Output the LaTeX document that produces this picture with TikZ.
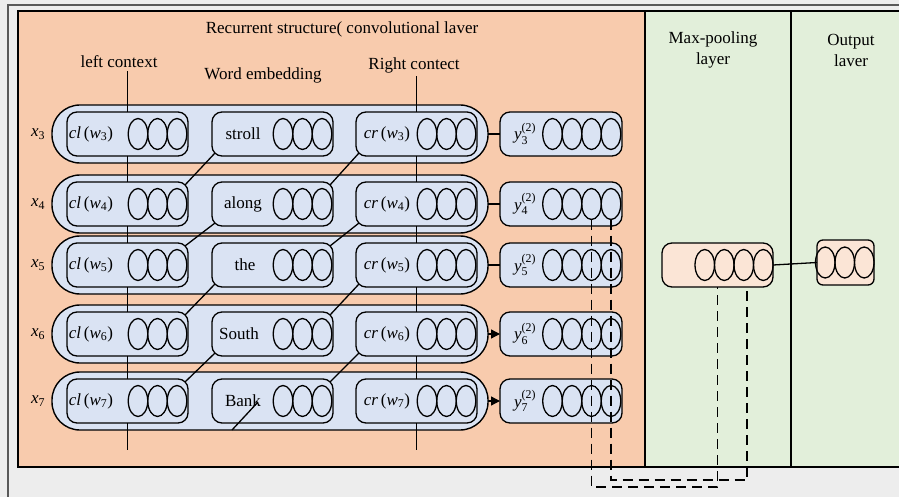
\documentclass[tikz,border=0pt]{standalone}
\usepackage{amsmath}
\usepackage{fontspec}
\setmainfont{Liberation Serif}
\usetikzlibrary{arrows.meta, positioning, shapes.geometric}
\definecolor{cnngray}{HTML}{EDEDED}
\definecolor{cnnframe}{HTML}{595959}
\definecolor{cnnorange}{HTML}{F8CBAD}
\definecolor{cnngreen}{HTML}{E2EFDA}
\definecolor{cnnblue}{HTML}{DAE3F3}
\definecolor{cnnpeach}{HTML}{FBE5D6}
\newcommand{\clw}[1]{\textit{cl}\,(\textit{w}$_{\textup{#1}}$)}
\newcommand{\crw}[1]{\textit{cr}\,(\textit{w}$_{\textup{#1}}$)}
\newcommand{\ylab}[1]{$\textit{y}^{\textup{(2)}}_{\textup{#1}}$}
\newcommand{\xlab}[1]{$\textit{x}_{\textup{#1}}$}

\begin{document}
\begin{tikzpicture}[
        x=1pt, y=-1pt,
        font=\fontsize{17}{21}\selectfont,
        every node/.style={align=center, outer sep=0pt},
        panel/.style={rectangle, draw=black, line width=1.2pt, inner sep=0pt},
        rowbox/.style={rectangle, rounded corners=28pt, draw=black, line width=1.4pt,
                       fill=cnnblue, minimum width=436pt, minimum height=58pt, inner sep=0pt},
        cellbox/.style={rectangle, rounded corners=10pt, draw=black, line width=1.3pt,
                        fill=cnnblue, minimum width=121pt, minimum height=44pt, inner sep=0pt},
        ybox/.style={cellbox, minimum width=122pt},
        poolbox/.style={cellbox, fill=cnnpeach, minimum width=111pt},
        outbox/.style={cellbox, fill=cnnpeach, rounded corners=6pt,
                       minimum width=57pt, minimum height=45pt},
        unit/.style={ellipse, draw=black, line width=1.3pt,
                     minimum width=19.5pt, minimum height=31pt, inner sep=0pt},
        link/.style={draw=black, line width=1.3pt},
        dashline/.style={link, line width=1.5pt, dash pattern=on 10pt off 6pt}
    ]
        \useasboundingbox (0,0) rectangle (899,497);
        \fill[cnngray] (0,0) rectangle (899,497);
        \draw[cnnframe, line width=1.5pt] (8,5) rectangle (906,504);

        % --- Paneles de capas ---
        \node[panel, fill=cnnorange, minimum width=627pt, minimum height=456pt] (recur) at (331.5,239) {};
        \node[panel, fill=cnngreen, minimum width=146pt, minimum height=456pt] (pooling) at (718,239) {};
        \node[panel, fill=cnngreen, minimum width=119pt, minimum height=456pt] (output) at (850.5,239) {};

        \node (title) at (342,29) {Recurrent structure( convolutional laver};
        \node (lctx) at (119,62) {left context};
        \node (wemb) at (263,75) {Word embedding};
        \node (rctx) at (414,65) {Right contect};
        \node (pooltitle) at (713,50) {Max-pooling\\layer};
        \node (outtitle) at (851,50) {Output\\laver};

        % --- Fila x3 ---
        \node (lx3) at (38,134) {\xlab{3}};
        \node[rowbox] (row3) at (270,134) {};
        \node[cellbox] (cl3) at (127.5,134) {};
        \node[cellbox] (w3) at (272.5,134) {};
        \node[cellbox] (cr3) at (416.5,134) {};
        \node[ybox] (y3) at (561,134) {};
        \node (tcl3) at ([xshift=24]cl3.west) {\clw{3}};
        \node (tw3) at ([xshift=31]w3.west) {stroll};
        \node (tcr3) at ([xshift=31]cr3.west) {\crw{3}};
        \node (ty3) at ([xshift=25]y3.west) {\ylab{3}};

        % --- Fila x4 ---
        \node (lx4) at (38,204) {\xlab{4}};
        \node[rowbox] (row4) at (270,204) {};
        \node[cellbox] (cl4) at (127.5,204) {};
        \node[cellbox] (w4) at (272.5,204) {};
        \node[cellbox] (cr4) at (416.5,204) {};
        \node[ybox] (y4) at (561,204) {};
        \node (tcl4) at ([xshift=24]cl4.west) {\clw{4}};
        \node (tw4) at ([xshift=31]w4.west) {along};
        \node (tcr4) at ([xshift=31]cr4.west) {\crw{4}};
        \node (ty4) at ([xshift=25]y4.west) {\ylab{4}};

        % --- Fila x5 ---
        \node (lx5) at (38,265) {\xlab{5}};
        \node[rowbox] (row5) at (270,265) {};
        \node[cellbox] (cl5) at (127.5,265) {};
        \node[cellbox] (w5) at (272.5,265) {};
        \node[cellbox] (cr5) at (416.5,265) {};
        \node[ybox] (y5) at (561,265) {};
        \node (tcl5) at ([xshift=24]cl5.west) {\clw{5}};
        \node (tw5) at ([xshift=33]w5.west) {the};
        \node (tcr5) at ([xshift=31]cr5.west) {\crw{5}};
        \node (ty5) at ([xshift=25]y5.west) {\ylab{5}};

        % --- Fila x6 ---
        \node (lx6) at (38,334) {\xlab{6}};
        \node[rowbox] (row6) at (270,334) {};
        \node[cellbox] (cl6) at (127.5,334) {};
        \node[cellbox] (w6) at (272.5,334) {};
        \node[cellbox] (cr6) at (416.5,334) {};
        \node[ybox] (y6) at (561,334) {};
        \node (tcl6) at ([xshift=24]cl6.west) {\clw{6}};
        \node (tw6) at ([xshift=27]w6.west) {South};
        \node (tcr6) at ([xshift=31]cr6.west) {\crw{6}};
        \node (ty6) at ([xshift=25]y6.west) {\ylab{6}};

        % --- Fila x7 ---
        \node (lx7) at (38,401) {\xlab{7}};
        \node[rowbox] (row7) at (270,401) {};
        \node[cellbox] (cl7) at (127.5,401) {};
        \node[cellbox] (w7) at (272.5,401) {};
        \node[cellbox] (cr7) at (416.5,401) {};
        \node[ybox] (y7) at (561,401) {};
        \node (tcl7) at ([xshift=24]cl7.west) {\clw{7}};
        \node (tw7) at ([xshift=31]w7.west) {Bank};
        \node (tcr7) at ([xshift=31]cr7.west) {\crw{7}};
        \node (ty7) at ([xshift=25]y7.west) {\ylab{7}};

        % --- Pooling y salida ---
        \node[poolbox] (pool) at (717.5,265) {};
        \node[outbox] (outp) at (845.5,262.5) {};

        % --- Unidades (elipses) ---
        \foreach \b in {cl3,w3,cr3,cl4,w4,cr4,cl5,w5,cr5,cl6,w6,cr6,cl7,w7,cr7}
            \foreach \k in {1,2,3}
                \node[unit] (\b-u\k) at ([xshift={-11-19.5*(\k-1)}]\b.east) {};
        \foreach \b in {y3,y4,y5,y6,y7}
            \foreach \k in {1,2,3,4}
                \node[unit] (\b-u\k) at ([xshift={-11-19.5*(\k-1)}]\b.east) {};
        \foreach \k in {1,2,3,4}
            \node[unit] (pool-u\k) at ([xshift={-9.75-19.5*(\k-1)}]pool.east) {};
        \foreach \k in {1,2,3}
            \node[unit] (outp-u\k) at ([xshift={-9.75-19.5*(\k-1)}]outp.east) {};

        % --- Contexto izquierdo / derecho ---
        \coordinate (lend) at (127.5,450);
        \coordinate (rend) at (416.5,450);
        \draw[link] (cl3.north |- lctx.south) -- (cl3.north);
        \draw[link] (cl3.south) -- (cl4.north);
        \draw[link] (cl4.south) -- (cl5.north);
        \draw[link] (cl5.south) -- (cl6.north);
        \draw[link] (cl6.south) -- (cl7.north);
        \draw[link] (cl7.south) -- (lend);
        \draw[link] (cr3.north |- rctx.south) -- (cr3.north);
        \draw[link] (cr3.south) -- (cr4.north);
        \draw[link] (cr4.south) -- (cr5.north);
        \draw[link] (cr5.south) -- (cr6.north);
        \draw[link] (cr6.south) -- (cr7.north);
        \draw[link] (cr7.south) -- (rend);

        % --- Diagonales ---
        \draw[link] ([shift={(3pt,3pt)}]w3.south west) -- ([shift={(-3pt,-3pt)}]cl4.north east);
        \draw[link] ([shift={(3pt,3pt)}]w4.south west) -- ([shift={(-3pt,-3pt)}]cl5.north east);
        \draw[link] ([shift={(3pt,3pt)}]w5.south west) -- ([shift={(-3pt,-3pt)}]cl6.north east);
        \draw[link] ([shift={(3pt,3pt)}]w6.south west) -- ([shift={(-3pt,-3pt)}]cl7.north east);
        \draw[link] ([shift={(3pt,3pt)}]cr3.south west) -- ([shift={(-3pt,-3pt)}]w4.north east);
        \draw[link] ([shift={(3pt,3pt)}]cr4.south west) -- ([shift={(-3pt,-3pt)}]w5.north east);
        \draw[link] ([shift={(3pt,3pt)}]cr5.south west) -- ([shift={(-3pt,-3pt)}]w6.north east);
        \draw[link] ([shift={(3pt,3pt)}]cr6.south west) -- ([shift={(-3pt,-3pt)}]w7.north east);
        \coordinate (bankA) at (258,402);
        \coordinate (bankB) at (232,430);
        \draw[link] (bankA) -- (bankB);

        % --- Filas a y ---
        \draw[link] (row3.east) -- (y3.west);
        \draw[link] (row4.east) -- (y4.west);
        \draw[link] (row5.east) -- (y5.west);
        \draw[link, -{Triangle[length=9pt, width=9pt]}] (row6.east) -- (y6.west);
        \draw[link, -{Triangle[length=9pt, width=9pt]}] (row7.east) -- (y7.west);

        % --- Max-pooling ---
        \coordinate (loopA) at (717.5,487);
        \coordinate (loopB) at (747,480);
        \coordinate (poolB) at ([xshift=29.5]pool.south);
        \draw[dashline] (y4-u2.south) |- (loopA) -- (pool.south);
        \draw[dashline] (y4-u1.south) |- (loopB) -- (poolB);
        \draw[link] (pool.east) -- (outp.west);
    \end{tikzpicture}
\end{document}
